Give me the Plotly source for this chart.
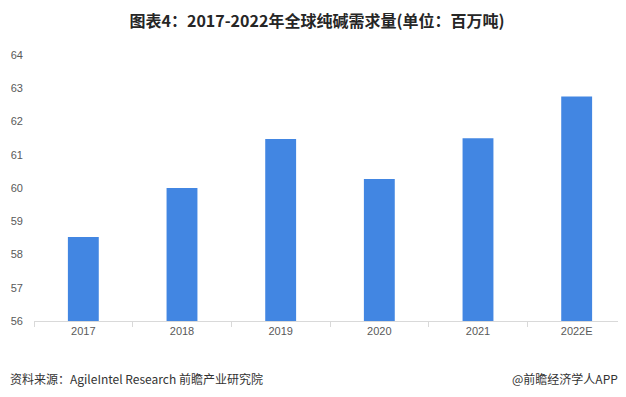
import plotly.graph_objects as go

categories = ["2017", "2018", "2019", "2020", "2021", "2022E"]
values = [58.53, 60.0, 61.47, 60.27, 61.5, 62.75]
y_ticks = [56, 57, 58, 59, 60, 61, 62, 63, 64]

title_text = "图表4：2017-2022年全球纯碱需求量(单位：百万吨)"
source_text = "资料来源：AgileIntel Research 前瞻产业研究院"
credit_text = "@前瞻经济学人APP"

# page body has an 8px default margin; figure is sized to fit the window
W, H = 618, 389
L, T, B, R = 26, 47, 76, 0
PW, PH = W - L - R, H - T - B

fig = go.Figure()
fig.add_trace(go.Bar(
    x=categories, y=values,
    marker=dict(color="#4286E2", line=dict(width=0)),
    width=0.313,
    showlegend=False,
))

fig.update_layout(
    width=W, height=H,
    margin=dict(l=L, r=R, t=T, b=B, autoexpand=False),
    paper_bgcolor="white", plot_bgcolor="white",
    font=dict(family="Liberation Sans, Noto Sans CJK SC, sans-serif", size=11, color="#595959"),
    title=dict(
        text="<b>" + title_text + "</b>",
        x=0.5, xanchor="center", y=1 - 13 / H, yanchor="middle",
        font=dict(family="Noto Sans CJK SC, sans-serif", size=16, color="#262626"),
    ),
    xaxis=dict(
        type="category", automargin=False,
        showline=True, linecolor="#D9D9D9", linewidth=1,
        ticks="outside", tickson="boundaries", ticklen=5, tickcolor="#D9D9D9",
        showgrid=False, zeroline=False,
        tickfont=dict(size=11, color="#595959"),
    ),
    yaxis=dict(
        range=[56, 64], tickvals=y_ticks, automargin=False,
        showgrid=False, zeroline=False, showline=False,
        ticks="", ticklabelstandoff=10,
        tickfont=dict(size=11, color="#595959"),
    ),
    annotations=[
        dict(text=source_text, xref="paper", yref="paper",
             x=-L / PW, y=-(370 - (H - B)) / PH, xanchor="left", yanchor="middle",
             showarrow=False,
             font=dict(family="Noto Sans CJK SC, sans-serif", size=12, color="#333333")),
        dict(text=credit_text, xref="paper", yref="paper",
             x=(612 - L) / PW, y=-(370 - (H - B)) / PH, xanchor="right", yanchor="middle",
             showarrow=False,
             font=dict(family="Noto Sans CJK SC, sans-serif", size=12, color="#333333")),
    ],
)

fig.write_html("out.html")
